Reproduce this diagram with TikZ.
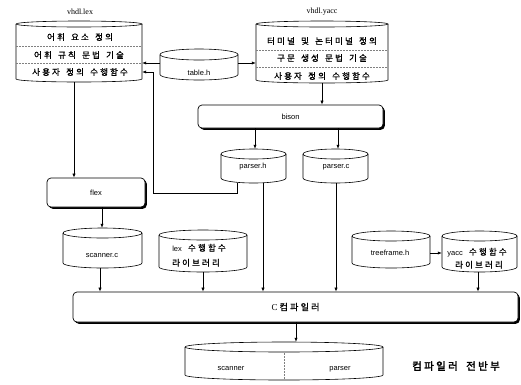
\documentclass[tikz,border=0pt]{standalone}
\usepackage{fontspec}
\setmainfont{Liberation Sans}
\newfontfamily\serf{Liberation Serif}
\newfontfamily\kr[LetterSpace=25,WordSpace=1.55,FakeBold=1]{Noto Sans CJK KR}
\newfontfamily\krb[LetterSpace=22,WordSpace=1.8,FakeBold=2.5]{Noto Sans CJK KR}
\usetikzlibrary{arrows.meta,shadows}
\newcommand\cyl[6][5]{%
  \node[draw=none, inner sep=0, minimum width={(#5-#3)*1pt}, minimum height={(#6-#4)*1pt}] (#2) at ({(#3+#5)/2},{(#4+#6)/2}) {};
  \draw[cylline] (#3,#4+#1) arc[start angle=180, end angle=-180, x radius={(#5-#3)/2}, y radius=#1];
  \draw[cylline] (#3,#4+#1) -- (#3,#6-#1) arc[start angle=180, end angle=0, x radius={(#5-#3)/2}, y radius=#1] -- (#5,#4+#1);
}
\begin{document}
\begin{tikzpicture}[x=1pt,y=-1pt,
  cylline/.style={line width=0.6pt},
  arr/.style={line width=0.6pt,-{Latex[length=4pt,width=3.2pt]}},
  sep/.style={gray, line width=0.4pt, dash pattern=on 1.5pt off 1.5pt},
  proc/.style={draw, line width=0.7pt, rounded corners=4pt, fill=white,
    general shadow={fill=black, shadow xshift=1.8pt, shadow yshift=-1.8pt}, inner sep=0,
    font=\fontsize{7.5}{9}\selectfont},
  kt/.style={font=\kr\fontsize{8.5}{10}\selectfont, inner sep=0},
  lt/.style={font=\fontsize{7.5}{9}\selectfont, inner sep=0},
  st/.style={font=\serf\fontsize{8}{9}\selectfont, inner sep=0},
]
\useasboundingbox (0,0) rectangle (521,384);

% cylinders
\cyl[3]{lex}{16}{21}{142}{82}
\cyl[3]{yacc}{256}{21}{388}{83}
\cyl[5.5]{tab}{160}{49}{238}{80}
\cyl[5]{ph}{221}{149}{286}{183}
\cyl[5]{pc}{303}{149}{368}{183}
\cyl[5]{sc}{63}{228}{142}{268}
\cyl[5]{ll}{159}{230}{247}{272}
\cyl[5]{tf}{352}{231}{430}{268}
\cyl[5]{yl}{442}{231}{517}{272}
\cyl[5]{out}{185}{342}{383}{380}

% separators
\draw[sep] (16,46) -- (142,46);
\draw[sep] (16,63) -- (142,63);
\draw[sep] (256,50) -- (388,50);
\draw[sep] (256,67) -- (388,67);
\draw[sep] (284,353) -- (284,380);

% labels
\node[st] (lexlbl) at (80,12) {vhdl.lex};
\node[st] (yacclbl) at (322,12) {vhdl.yacc};
\node[kt] (lex1) at (80,37) {어휘 요소 정의};
\node[kt] (lex2) at (79,55) {어휘 규칙 문법 기술};
\node[kt] (lex3) at (80,72) {사용자 정의 수행함수};
\node[kt] (yacc1) at (322,41) {터미널 및 논터미널 정의};
\node[kt] (yacc2) at (322,58) {구문 생성 문법 기술};
\node[kt] (yacc3) at (322,76) {사용자 정의 수행함수};
\node[lt] (tabt) at (199,73) {table.h};
\node[lt] (pht) at (253,167) {parser.h};
\node[lt] (pct) at (336,167) {parser.c};
\node[lt] (sct) at (102,256) {scanner.c};
\node[kt, anchor=base] (llt1) at (199,251) {{\fontspec{Liberation Sans}\fontsize{7.5}{9}\selectfont lex} 수행함수};
\node[kt, anchor=base] (llt2) at (196,266) {라이브러리};
\node[lt] (tft) at (390,253) {treeframe.h};
\node[kt, anchor=base] (ylt1) at (477,255) {{\fontspec{Liberation Sans}\fontsize{7.5}{9}\selectfont yacc} 수행함수};
\node[kt, anchor=base] (ylt2) at (479,268) {라이브러리};
\node[lt] (outs) at (231,369) {scanner};
\node[lt] (outp) at (340,369) {parser};
\node[font=\krb\fontsize{10.5}{12}\selectfont, inner sep=0] (title) at (456,366) {컴파일러 전반부};

% process boxes
\node[proc, minimum width=185pt, minimum height=23pt] (bison) at (290.5,116.5) {bison};
\node[proc, minimum width=98pt, minimum height=29pt] (flex) at (96,192.5) {flex};
\node[proc, minimum width=445pt, minimum height=30pt] (cc) at (295.5,307) {{\serf\fontsize{9}{10}\selectfont C} {\kr\fontsize{9}{10}\selectfont 컴파일러}};

% connectors
\draw[arr] (tab.west |- 0,63) -- (lex.east |- 0,63);
\draw[arr] (tab.east |- 0,63) -- (yacc.west |- 0,63);
\draw[arr] (yacc.south -| 322,0) -- (bison.north -| 322,0);
\draw[arr] (lex.south -| 74,0) -- (flex.north -| 74,0);
\draw[arr] (bison.south -| 255,0) -- (ph.north -| 255,0);
\draw[arr] (bison.south -| 338,0) -- (pc.north -| 338,0);
\draw[arr] ([xshift=-16pt]ph.south) |- (153,193) |- (lex.east |- 0,72);
\draw[arr] (flex.south -| 102,0) -- (sc.north -| 102,0);
\draw[arr] (ph.south -| 263,0) -- (cc.north -| 263,0);
\draw[arr] (pc.south -| 336,0) -- (cc.north -| 336,0);
\draw[arr] (sc.south -| 100,0) -- (cc.north -| 100,0);
\draw[arr] (ll.south -| 203,0) -- (cc.north -| 203,0);
\draw[arr] (yl.south -| 478,0) -- (cc.north -| 478,0);
\draw[arr] (tf.east |- 0,253) -- (yl.west |- 0,253);
\draw[arr] (cc.south -| 296,0) -- (out.north -| 296,0);
\end{tikzpicture}
\end{document}
